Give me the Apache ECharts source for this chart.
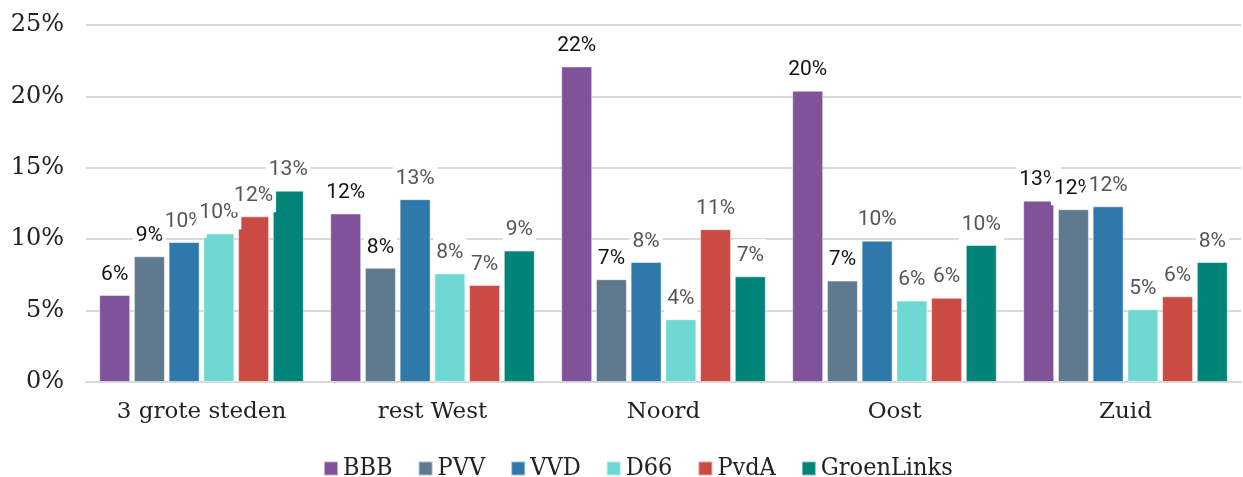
<!DOCTYPE html>
<html>
<head>
<meta charset="utf-8">
<script src="https://cdn.jsdelivr.net/npm/echarts@6/dist/echarts.min.js"></script>
<style>
  html, body { margin: 0; padding: 0; background: #fff; }
  #main { width: 1243px; height: 477px; }
</style>
</head>
<body>
<div id="main"></div>
<script>
// regio's en partijen
var regios = ['3 grote steden', 'rest West', 'Noord', 'Oost', 'Zuid'];
var partijen = ['BBB', 'PVV', 'VVD', 'D66', 'PvdA', 'GroenLinks'];
var kleuren = ['#7f529a', '#5f7a8e', '#2e78aa', '#6ed9d2', '#c94b43', '#00847a'];

// percentages per partij, volgorde van regios
var bbb = [6.1, 11.8, 22.1, 20.4, 12.7];
var pvv = [8.8, 8.0, 7.2, 7.1, 12.1];
var vvd = [9.8, 12.8, 8.4, 9.9, 12.3];
var d66 = [10.4, 7.6, 4.4, 5.7, 5.1];
var pvda = [11.6, 6.8, 10.7, 5.9, 6.0];
var groenlinks = [13.4, 9.2, 7.4, 9.6, 8.4];

var yTicks = [0, 5, 10, 15, 20, 25];

var waarden = [bbb, pvv, vvd, d66, pvda, groenlinks];
var labelKleur = ['#111', '#111', '#555', '#555', '#555', '#555'];

var series = [];
for (var i = 0; i < partijen.length; i++) {
	series.push({
		name: partijen[i],
		type: 'bar',
		data: waarden[i],
		barWidth: 31,
		barGap: '12%',
		itemStyle: { color: kleuren[i], borderColor: 'rgba(255,255,255,0.5)', borderWidth: 1 },
		label: {
			show: true,
			position: 'top',
			distance: 4,
			formatter: function (p) { return Math.round(p.value) + '%'; },
			fontFamily: 'Roboto',
			fontSize: 21,
			color: labelKleur[i],
			backgroundColor: '#fff',
			padding: [6, 3]
		}
	});
}

var myChart = echarts.init(document.getElementById('main'));
myChart.setOption({
	animation: false,
	grid: { left: 86, right: 2, top: 25, bottom: 95 },
	legend: {
		top: 451,
		left: 318,
		icon: 'rect',
		itemWidth: 14,
		itemHeight: 14,
		itemGap: 25,
		textStyle: { fontFamily: 'DejaVu Serif Condensed', fontSize: 25, color: '#222' },
		data: partijen
	},
	xAxis: {
		type: 'category',
		data: regios,
		axisLine: { lineStyle: { color: '#d9d9d9', width: 2 } },
		axisTick: { show: false },
		axisLabel: { fontFamily: 'DejaVu Serif', fontSize: 23, color: '#222', margin: 19 }
	},
	yAxis: {
		type: 'value',
		min: yTicks[0],
		max: yTicks[yTicks.length - 1],
		interval: 5,
		axisLabel: {
			fontFamily: 'DejaVu Serif', fontSize: 24, color: '#222', margin: 22,
			formatter: '{value}%'
		},
		splitLine: { lineStyle: { color: '#d9d9d9', width: 2 } }
	},
	series: series
});
</script>
</body>
</html>
